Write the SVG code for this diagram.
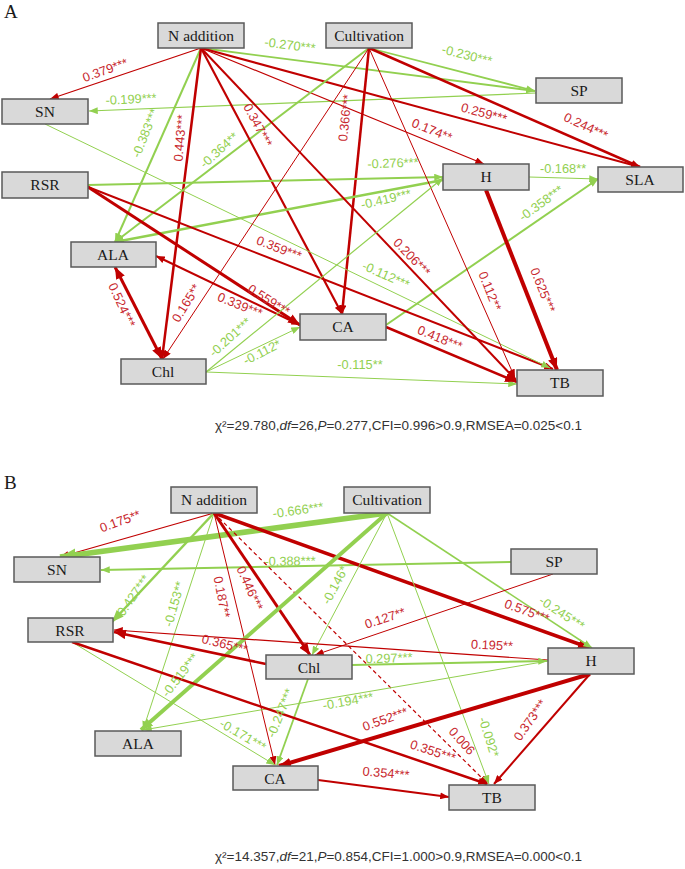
<svg xmlns="http://www.w3.org/2000/svg" width="685" height="869" viewBox="0 0 685 869">
<defs>
<style>
.bx{fill:#D9D9D9;stroke:#595959;stroke-width:1.5}
.nt{font-family:"Liberation Serif","Times New Roman",serif;font-size:15.5px;fill:#1a1a1a;text-anchor:middle}
.pl{font-family:"Liberation Serif","Times New Roman",serif;font-size:19px;fill:#1a1a1a}
.r{stroke:#C00000;fill:none}
.g{stroke:#92D050;fill:none}
.lr,.lg{font-family:"Liberation Sans",Arial,sans-serif;font-size:12.8px;text-anchor:middle;dominant-baseline:central}
.lr{fill:#C8282E}
.lg{fill:#92D050}
.f{font-family:"Liberation Sans",Arial,sans-serif;font-size:13.5px;fill:#333}
.ar{marker-end:url(#mr)}
.arL{marker-end:url(#mrL)}
.ag{marker-end:url(#mg)}
.agL{marker-end:url(#mgL)}
.agX{marker-end:url(#mgX)}
</style>
<marker id="mr" viewBox="0 0 10 8" refX="10" refY="4" markerWidth="9" markerHeight="7" markerUnits="userSpaceOnUse" orient="auto-start-reverse"><path d="M0,0L10,4L0,8z" fill="#C00000"/></marker>
<marker id="mrL" viewBox="0 0 10 8" refX="10" refY="4" markerWidth="12" markerHeight="10" markerUnits="userSpaceOnUse" orient="auto-start-reverse"><path d="M0,0L10,4L0,8z" fill="#C00000"/></marker>
<marker id="mg" viewBox="0 0 10 8" refX="10" refY="4" markerWidth="9" markerHeight="7" markerUnits="userSpaceOnUse" orient="auto-start-reverse"><path d="M0,0L10,4L0,8z" fill="#92D050"/></marker>
<marker id="mgL" viewBox="0 0 10 8" refX="10" refY="4" markerWidth="12" markerHeight="10" markerUnits="userSpaceOnUse" orient="auto-start-reverse"><path d="M0,0L10,4L0,8z" fill="#92D050"/></marker>
<marker id="mgX" viewBox="0 0 10 8" refX="10" refY="4" markerWidth="16" markerHeight="13" markerUnits="userSpaceOnUse" orient="auto-start-reverse"><path d="M0,0L10,4L0,8z" fill="#92D050"/></marker>
</defs>
<rect width="685" height="869" fill="#fff"/>

<!-- ================= PANEL A ================= -->
<text class="pl" x="4" y="18">A</text>
<g id="A-connectors">
<path class="r ar" stroke-width="1.3" d="M201,48L50,99"/>
<path class="g ag" stroke-width="1.8" d="M201,48L535,91"/>
<path class="g ag" stroke-width="1.8" d="M369,48L535,91"/>
<path class="g ag" stroke-width="1.2" d="M536,93L89,111"/>
<path class="r ar" stroke-width="2" d="M201,48L640,167"/>
<path class="r ar" stroke-width="2.5" d="M369,48L640,167"/>
<path class="r ar" stroke-width="1.2" d="M201,48L484,164"/>
<path class="g ag" stroke-width="2" d="M201,48L115,242"/>
<path class="r ar" stroke-width="2.5" d="M201,48L162,359"/>
<path class="g ag" stroke-width="2" d="M369,48L115,242"/>
<path class="r ar" stroke-width="2.2" d="M201,48L342,314"/>
<path class="r ar" stroke-width="2.5" d="M369,48L342,314"/>
<path class="g ag" stroke-width="2" d="M88,185L443,177"/>
<path class="g ag" stroke-width="1.2" d="M529,177L598,179"/>
<path class="g ag" stroke-width="2.5" d="M443,180L115,242"/>
<path class="g ag" stroke-width="2" d="M386,325L598,179"/>
<path class="r ar" stroke-width="2" d="M88,187L553,369"/>
<path class="g ag" stroke-width="1" d="M45,124L550,368"/>
<path class="r ar" stroke-width="2" d="M201,48L516,380"/>
<path class="r ar" stroke-width="1" d="M369,48L515,378"/>
<path class="r arL" stroke-width="4" d="M486,190L557,370"/>
<path class="r arL" stroke-width="3" d="M88,187L300,325"/>
<path class="r ar" stroke-width="2" d="M156,256L300,325" marker-start="url(#mr)"/>
<path class="r arL" stroke-width="3" d="M115,267L162,359" marker-start="url(#mrL)"/>
<path class="r ar" stroke-width="1" d="M369,48L163,359"/>
<path class="g ag" stroke-width="1.2" d="M206,372L443,178"/>
<path class="g ag" stroke-width="1" d="M206,372L300,327"/>
<path class="g ag" stroke-width="1" d="M206,372L517,384"/>
<path class="r arL" stroke-width="2.5" d="M386,327L517,382"/>

<text class="lr" x="105" y="70" transform="rotate(-20 105 70)">0.379***</text>
<text class="lg" x="290" y="45" transform="rotate(7 290 45)">-0.270***</text>
<text class="lg" x="467" y="55" transform="rotate(14 467 55)">-0.230***</text>
<text class="lg" x="131" y="99" transform="rotate(-3 131 99)">-0.199***</text>
<text class="lr" x="484" y="113" transform="rotate(15 484 113)">0.259***</text>
<text class="lr" x="586" y="126" transform="rotate(25 586 126)">0.244***</text>
<text class="lr" x="432" y="130" transform="rotate(22 432 130)">0.174**</text>
<text class="lg" x="145" y="133" transform="rotate(-68 145 133)">-0.383***</text>
<text class="lr" x="180" y="138" transform="rotate(-85 180 138)">0.443***</text>
<text class="lg" x="219" y="150" transform="rotate(-42 219 150)">-0.364**</text>
<text class="lr" x="258" y="125" transform="rotate(62 258 125)">0.347***</text>
<text class="lr" x="345" y="118" transform="rotate(-84 345 118)">0.366***</text>
<text class="lg" x="393" y="163" transform="rotate(-2 393 163)">-0.276***</text>
<text class="lg" x="563" y="168">-0.168**</text>
<text class="lg" x="386" y="199" transform="rotate(-13 386 199)">-0.419***</text>
<text class="lg" x="541" y="203" transform="rotate(-36 541 203)">-0.358***</text>
<text class="lr" x="279" y="248" transform="rotate(21 279 248)">0.359***</text>
<text class="lg" x="386" y="275" transform="rotate(24 386 275)">-0.112***</text>
<text class="lr" x="412" y="257" transform="rotate(46 412 257)">0.206***</text>
<text class="lr" x="490" y="291" transform="rotate(68 490 291)">0.112**</text>
<text class="lr" x="543" y="290" transform="rotate(68 543 290)">0.625***</text>
<text class="lr" x="269" y="300" transform="rotate(32 269 300)">0.559***</text>
<text class="lr" x="240" y="305" transform="rotate(22 240 305)">0.339***</text>
<text class="lr" x="122" y="305" transform="rotate(65 122 305)">0.524***</text>
<text class="lr" x="186" y="303" transform="rotate(-58 186 303)">0.165**</text>
<text class="lg" x="230" y="337" transform="rotate(-42 230 337)">-0.201***</text>
<text class="lg" x="262" y="352" transform="rotate(-27 262 352)">-0.112*</text>
<text class="lg" x="360" y="364">-0.115**</text>
<text class="lr" x="440" y="338" transform="rotate(22 440 338)">0.418***</text>
</g>

<g id="A-N-addition"><rect class="bx" x="158" y="23" width="86" height="25"/><text class="nt" x="201" y="41">N addition</text></g>
<g id="A-Cultivation"><rect class="bx" x="326" y="23" width="86" height="25"/><text class="nt" x="369" y="41">Cultivation</text></g>
<g id="A-SN"><rect class="bx" x="2" y="99" width="86" height="25"/><text class="nt" x="45" y="117">SN</text></g>
<g id="A-SP"><rect class="bx" x="536" y="78" width="86" height="25"/><text class="nt" x="579" y="96">SP</text></g>
<g id="A-RSR"><rect class="bx" x="2" y="172" width="86" height="26"/><text class="nt" x="45" y="190">RSR</text></g>
<g id="A-ALA"><rect class="bx" x="71" y="242" width="85" height="25"/><text class="nt" x="113" y="260">ALA</text></g>
<g id="A-H"><rect class="bx" x="443" y="164" width="86" height="26"/><text class="nt" x="486" y="182">H</text></g>
<g id="A-SLA"><rect class="bx" x="598" y="167" width="85" height="25"/><text class="nt" x="640" y="185">SLA</text></g>
<g id="A-CA"><rect class="bx" x="300" y="314" width="86" height="26"/><text class="nt" x="343" y="332">CA</text></g>
<g id="A-Chl"><rect class="bx" x="121" y="359" width="85" height="25"/><text class="nt" x="163" y="377">Chl</text></g>
<g id="A-TB"><rect class="bx" x="517" y="370" width="86" height="26"/><text class="nt" x="560" y="388">TB</text></g>

<text class="f" x="215" y="430">χ²=29.780,<tspan font-style="italic">df</tspan>=26,<tspan font-style="italic">P</tspan>=0.277,CFI=0.996&gt;0.9,RMSEA=0.025&lt;0.1</text>

<!-- ================= PANEL B ================= -->
<text class="pl" x="4" y="489">B</text>
<g id="B-connectors">
<path class="r ar" stroke-width="1.2" d="M214,513L60,557"/>
<path class="g agX" stroke-width="5.5" d="M387,513L60,557"/>
<path class="g ag" stroke-width="2" d="M511,562L101,570"/>
<path class="g agL" stroke-width="2.5" d="M214,513L112,622"/>
<path class="g ag" stroke-width="1" d="M214,513L143,730"/>
<path class="r ar" stroke-width="1" d="M214,513L275,765"/>
<path class="r arL" stroke-width="3" d="M214,513L310,655"/>
<path class="r ar" stroke-width="1.2" stroke-dasharray="4,3" stroke="#D01010" d="M214,513L488,784"/>
<path class="r arL" stroke-width="3.5" d="M214,513L590,648"/>
<path class="g ag" stroke-width="1" d="M387,513L312,655"/>
<path class="g agL" stroke-width="4" d="M387,513L141,730"/>
<path class="g ag" stroke-width="1.5" d="M387,513L592,648"/>
<path class="g ag" stroke-width="1" d="M387,513L489,784"/>
<path class="r ar" stroke-width="1" d="M553,574L315,655"/>
<path class="r ar" stroke-width="1.2" d="M548,660L114,630"/>
<path class="r arL" stroke-width="2.5" d="M266,664L114,632"/>
<path class="g ag" stroke-width="2" d="M352,665L547,661"/>
<path class="g ag" stroke-width="1" d="M548,661L143,730"/>
<path class="g ag" stroke-width="1" d="M72,642L275,765"/>
<path class="g ag" stroke-width="1.8" d="M308,679L277,765"/>
<path class="r arL" stroke-width="4" d="M590,674L279,766"/>
<path class="r ar" stroke-width="2.5" d="M72,642L487,784"/>
<path class="r ar" stroke-width="2" d="M590,674L494,784"/>
<path class="r ar" stroke-width="2" d="M318,780L449,797"/>

<text class="lr" x="120" y="521" transform="rotate(-20 120 521)">0.175**</text>
<text class="lg" x="298" y="510" transform="rotate(-8 298 510)">-0.666***</text>
<text class="lg" x="290" y="561" transform="rotate(-1 290 561)">-0.388***</text>
<text class="lg" x="132" y="597" transform="rotate(-55 132 597)">-0.427***</text>
<text class="lg" x="174" y="604" transform="rotate(-74 174 604)">-0.153**</text>
<text class="lr" x="222" y="597" transform="rotate(79 222 597)">0.187**</text>
<text class="lr" x="250" y="588" transform="rotate(66 250 588)">0.446***</text>
<text class="lg" x="335" y="585" transform="rotate(-62 335 585)">-0.146*</text>
<text class="lr" x="385" y="618" transform="rotate(-18 385 618)">0.127**</text>
<text class="lr" x="527" y="611" transform="rotate(20 527 611)">0.575***</text>
<text class="lg" x="562" y="613" transform="rotate(33 562 613)">-0.245***</text>
<text class="lr" x="492" y="645" transform="rotate(3 492 645)">0.195**</text>
<text class="lr" x="225" y="644" transform="rotate(14 225 644)">0.365***</text>
<text class="lg" x="389" y="658" transform="rotate(-2 389 658)">0.297***</text>
<text class="lg" x="180" y="675" transform="rotate(-52 180 675)">-0.519***</text>
<text class="lg" x="348" y="701" transform="rotate(-10 348 701)">-0.194***</text>
<text class="lg" x="243" y="735" transform="rotate(30 243 735)">-0.171***</text>
<text class="lg" x="280" y="713" transform="rotate(-68 280 713)">-0.247***</text>
<text class="lr" x="385" y="719" transform="rotate(-20 385 719)">0.552***</text>
<text class="lr" x="433" y="751" transform="rotate(18 433 751)">0.355***</text>
<text class="lr" x="462" y="741" transform="rotate(48 462 741)">0.006</text>
<text class="lg" x="489" y="737" transform="rotate(72 489 737)">-0.092*</text>
<text class="lr" x="530" y="720" transform="rotate(-55 530 720)">0.373***</text>
<text class="lr" x="386" y="773" transform="rotate(5 386 773)">0.354***</text>
</g>

<g id="B-N-addition"><rect class="bx" x="171" y="487" width="86" height="26"/><text class="nt" x="214" y="505">N addition</text></g>
<g id="B-Cultivation"><rect class="bx" x="344" y="487" width="86" height="26"/><text class="nt" x="387" y="505">Cultivation</text></g>
<g id="B-SN"><rect class="bx" x="14" y="557" width="86" height="25"/><text class="nt" x="57" y="575">SN</text></g>
<g id="B-SP"><rect class="bx" x="511" y="549" width="86" height="25"/><text class="nt" x="554" y="567">SP</text></g>
<g id="B-RSR"><rect class="bx" x="28" y="618" width="85" height="24"/><text class="nt" x="70" y="636">RSR</text></g>
<g id="B-Chl"><rect class="bx" x="266" y="655" width="86" height="24"/><text class="nt" x="309" y="673">Chl</text></g>
<g id="B-H"><rect class="bx" x="548" y="648" width="86" height="26"/><text class="nt" x="591" y="666">H</text></g>
<g id="B-ALA"><rect class="bx" x="95" y="731" width="86" height="25"/><text class="nt" x="138" y="749">ALA</text></g>
<g id="B-CA"><rect class="bx" x="233" y="766" width="85" height="24"/><text class="nt" x="275" y="784">CA</text></g>
<g id="B-TB"><rect class="bx" x="449" y="785" width="86" height="25"/><text class="nt" x="492" y="803">TB</text></g>

<text class="f" x="215" y="861">χ²=14.357,<tspan font-style="italic">df</tspan>=21,<tspan font-style="italic">P</tspan>=0.854,CFI=1.000&gt;0.9,RMSEA=0.000&lt;0.1</text>
</svg>
